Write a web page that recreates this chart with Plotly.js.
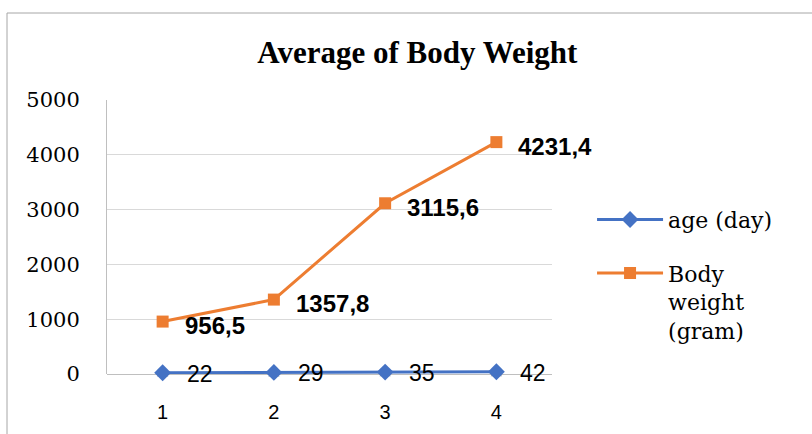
<!DOCTYPE html>
<html>
<head>
<meta charset="utf-8">
<script src="https://cdn.plot.ly/plotly-3.0.1.min.js"></script>
<style>html,body{margin:0;padding:0;background:#fff;}#chart{width:812px;height:434px;}</style>
</head>
<body>
<div id="chart"></div>
<script>
const categories = ['1', '2', '3', '4'];
const ageDay = [22, 29, 35, 42];
const bodyWeight = [956.5, 1357.8, 3115.6, 4231.4];
const hiddenSeries = [1, 2, 3, 4];
const ageLabels = ['22', '29', '35', '42'];
const weightLabels = ['956,5', '1357,8', '3115,6', '4231,4'];
const yTicks = [0, 1000, 2000, 3000, 4000, 5000];

const traces = [
  {
    x: categories, y: hiddenSeries, type: 'scatter', mode: 'markers',
    marker: {symbol: 'triangle-up', size: 10, color: '#a5a5a5'},
    showlegend: false, hoverinfo: 'skip', cliponaxis: false
  },
  {
    x: categories, y: ageDay, type: 'scatter', mode: 'lines+markers',
    name: 'age (day)', legendgroup: 'age',
    line: {color: '#4472C4', width: 3},
    marker: {symbol: 'diamond', size: 13, color: '#4472C4'},
    cliponaxis: false
  },
  {
    x: categories, y: bodyWeight, type: 'scatter', mode: 'lines+markers',
    name: 'Body<br>weight<br>(gram)', legendgroup: 'weight',
    line: {color: '#ED7D31', width: 3},
    marker: {symbol: 'square', size: 12, color: '#ED7D31'},
    cliponaxis: false
  }
];

const annotations = [];
categories.forEach((c, i) => {
  annotations.push({
    x: i, y: ageDay[i], xref: 'x', yref: 'y', text: ageLabels[i],
    showarrow: false, xanchor: 'left', yanchor: 'middle', xshift: 22, yshift: -1,
    font: {family: 'Liberation Sans, Arial, sans-serif', size: 23, color: '#000'}
  });
  annotations.push({
    x: i, y: bodyWeight[i], xref: 'x', yref: 'y', text: '<b>' + weightLabels[i] + '</b>',
    showarrow: false, xanchor: 'left', yanchor: 'middle', xshift: 20, yshift: -4,
    font: {family: 'Liberation Sans, Arial, sans-serif', size: 24, color: '#000'}
  });
});

const layout = {
  width: 812, height: 434,
  margin: {l: 107, r: 260, t: 100, b: 60},
  paper_bgcolor: '#fff', plot_bgcolor: '#fff',
  title: {
    text: '<b>Average of Body Weight</b>',
    font: {family: 'Liberation Serif, serif', size: 31, color: '#000'},
    x: 0.514, xanchor: 'center', y: 0.88, yanchor: 'middle'
  },
  xaxis: {
    type: 'category', range: [-0.5, 3.5],
    showgrid: false, zeroline: false, showline: false, ticks: '',
    tickfont: {family: 'Liberation Sans, Arial, sans-serif', size: 20, color: '#000'},
    ticklabelstandoff: 24
  },
  yaxis: {
    range: [0, 5000], tickvals: yTicks,
    showgrid: true, gridcolor: '#d9d9d9', gridwidth: 1,
    zeroline: true, zerolinecolor: '#bfbfbf', zerolinewidth: 1,
    showline: true, linecolor: '#bfbfbf', linewidth: 1, ticks: '',
    tickfont: {family: 'DejaVu Serif, serif', size: 21, color: '#000'},
    ticklabelstandoff: 22
  },
  legend: {
    x: 1.09, xanchor: 'left', y: 0.64, yanchor: 'top',
    font: {family: 'DejaVu Serif, serif', size: 22, color: '#000'},
    valign: 'top', tracegroupgap: 22, itemwidth: 66,
    bgcolor: 'rgba(0,0,0,0)'
  },
  annotations: annotations,
  shapes: [{
    type: 'rect', xref: 'paper', yref: 'paper',
    x0: -0.2247, x1: 1.7, y0: -0.5, y1: 1.3175,
    line: {color: '#a6a6a6', width: 1}, fillcolor: 'rgba(0,0,0,0)', layer: 'below'
  }]
};

Plotly.newPlot('chart', traces, layout, {displayModeBar: false, staticPlot: true});
</script>
</body>
</html>
